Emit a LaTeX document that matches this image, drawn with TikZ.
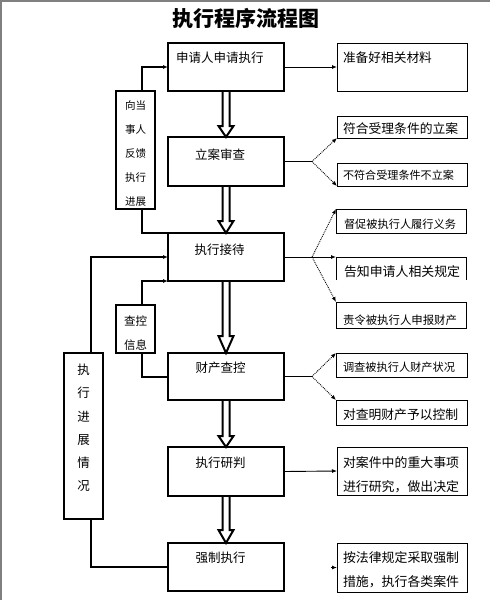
\documentclass[tikz,border=0pt]{standalone}
\usepackage{fontspec}
\setmainfont{Noto Sans CJK SC}
\usetikzlibrary{arrows.meta,calc}
\newcommand\setfs[2]{\fontsize{#1pt}{#2pt}\selectfont}
\newcommand\myhollow[3]{%
  \draw[hollow] ($(#1.south)+(-3.5,0)$) -- ($(#2.north)+(-3.5,-#3)$) -- ($(#2.north)+(-7.5,-#3)$)
     -- (#2.north) -- ($(#2.north)+(7.5,-#3)$) -- ($(#2.north)+(3.5,-#3)$) -- ($(#1.south)+(3.5,0)$);}
\tikzset{
  mainbox/.style={draw, line width=2.3pt, minimum width=116pt, anchor=north west, inner sep=0pt, outer sep=0pt},
  sidebox/.style={draw, line width=2pt, minimum width=39pt, anchor=north west, inner sep=0pt, outer sep=0pt},
  rbox/.style={draw, line width=1pt, minimum width=130pt, anchor=north west, inner sep=0pt, outer sep=0pt},
  txt/.style={inner sep=0pt, outer sep=0pt},
  hollow/.style={line width=2pt, line join=miter},
  feed/.style={line width=2pt},
  tipsmall/.style={-{Latex[length=5pt,width=4pt]}},
  thin/.style={line width=0.9pt},
  dots/.style={line width=0.9pt, densely dotted},
  framegray/.style={line width=2pt, draw=black!50}
}
\begin{document}
\begin{tikzpicture}[x=1pt,y=-1pt]
\useasboundingbox (0,0) rectangle (490,600);
\fill[white] (0,0) rectangle (490,600);
\draw[framegray] (0,1) -- (490,1);
\draw[framegray] (1,0) -- (1,600);

% title
\node[txt, font=\setfs{21}{21}\bfseries] (title) at (246,19) {执行程序流程图};

% main column
\node[mainbox, minimum height=48pt] (b1) at (168,43) {};
\node[mainbox, minimum height=49pt] (b2) at (168,137) {};
\node[mainbox, minimum height=48pt] (b3) at (168,233) {};
\node[mainbox, minimum height=47pt] (b4) at (168,353) {};
\node[mainbox, minimum height=49pt] (b5) at (168,447) {};
\node[mainbox, minimum height=48pt, line width=2pt] (b6) at (168,543) {};

\node[txt, font=\setfs{12.5}{12.5}, anchor=west] (b1t) at (176,57.5) {申请人申请执行};
\node[txt, font=\setfs{12.5}{12.5}] (b2t) at (220,155) {立案审查};
\node[txt, font=\setfs{12.5}{12.5}] (b3t) at (219.5,250) {执行接待};
\node[txt, font=\setfs{12.5}{12.5}] (b4t) at (220.5,368) {财产查控};
\node[txt, font=\setfs{12.5}{12.5}] (b5t) at (220.5,463) {执行研判};
\node[txt, font=\setfs{12.5}{12.5}] (b6t) at (220.5,558) {强制执行};

% hollow arrows
\myhollow{b1}{b2}{11}
\myhollow{b2}{b3}{12}
\myhollow{b3}{b4}{17}
\myhollow{b4}{b5}{11}
\myhollow{b5}{b6}{13}

% left boxes
\node[sidebox, minimum height=118pt] (l1) at (116,91) {};
\node[sidebox, minimum height=48pt] (l2) at (116,305) {};
\node[sidebox, minimum height=166pt] (l3) at (64,353) {};
\node[txt, font=\setfs{10.5}{24}, align=center] (l1t) at (135.5,154) {向当\\事人\\反馈\\执行\\进展};
\node[txt, font=\setfs{11.5}{24}, align=center] (l2t) at (135.5,333) {查控\\信息};
\node[txt, font=\setfs{12.5}{23.2}, align=center] (l3t) at (83.5,428) {执\\行\\进\\展\\情\\况};

% left connectors
\draw[feed, tipsmall] ([xshift=6.5pt]l1.north) |- (b1.west);
\draw[feed] ([xshift=6.5pt]l1.south) |- (b3.north west);
\draw[feed, tipsmall] ([xshift=7.5pt]l3.north) |- (b3.west);
\draw[feed, tipsmall] ([xshift=6.5pt]l2.north) |- (b3.south west);
\draw[feed] ([xshift=6.5pt]l2.south) |- (b4.west);
\draw[feed] ([xshift=7.5pt]l3.south) |- (b6.west);

% right boxes
\node[rbox, minimum height=48pt] (r1) at (337,43) {};
\node[rbox, minimum height=22pt] (r2) at (337,116) {};
\node[rbox, minimum height=23pt] (r3) at (337,163) {};
\node[rbox, minimum height=24pt] (r4) at (336,209) {};
\node[rbox, minimum height=23pt, draw=none] (r5) at (336,257) {};
\draw[line width=1pt] (r5.south west) -- (r5.north west) -- (r5.north east) -- (r5.south east);
\node[rbox, minimum height=26pt] (r6) at (336,302) {};
\node[rbox, minimum height=24pt, minimum width=131pt] (r7) at (336,353) {};
\node[rbox, minimum height=25pt, minimum width=131pt] (r8) at (336,400) {};
\node[rbox, minimum height=48pt] (r9) at (337,447) {};
\node[rbox, minimum height=49pt] (r10) at (337,543) {};

\node[txt, font=\setfs{12.7}{12.7}, anchor=west] (r1t) at (343,58) {准备好相关材料};
\node[txt, font=\setfs{12.8}{12.8}, anchor=west] (r2t) at (343,129) {符合受理条件的立案};
\node[txt, font=\setfs{11.1}{11.1}, anchor=west] (r3t) at (343,175) {不符合受理条件不立案};
\node[txt, font=\setfs{11.2}{11.2}, anchor=west] (r4t) at (344,224) {督促被执行人履行义务};
\node[txt, font=\setfs{12.9}{12.9}, anchor=west] (r5t) at (344,272) {告知申请人相关规定};
\node[txt, font=\setfs{11.4}{11.4}, anchor=west] (r6t) at (343,320) {责令被执行人申报财产};
\node[txt, font=\setfs{11.2}{11.2}, anchor=west] (r7t) at (343,367) {调查被执行人财产状况};
\node[txt, font=\setfs{12.8}{12.8}, anchor=west] (r8t) at (343,415) {对查明财产予以控制};
\node[txt, font=\setfs{12.9}{24}, anchor=west, align=left] (r9t) at (343,475) {对案件中的重大事项\\进行研究，做出决定};
\node[txt, font=\setfs{12.9}{24}, anchor=west, align=left] (r10t) at (343,570) {按法律规定采取强制\\措施，执行各类案件};

% right connectors
\coordinate (c2) at (312,161.5);
\coordinate (c3) at (312,257);
\coordinate (c4) at (312,376.5);
\coordinate (a6) at (331,567.5);
\draw[thin, tipsmall] (b1.east) -- (r1.west);
\draw[thin] (b2.east) -- (c2);
\draw[dots, tipsmall] (c2) -- (r2.south west);
\draw[dots, tipsmall] (c2) -- (r3.south west);
\draw[thin, tipsmall] (b3.east) -- (r5.north west);
\draw[dots, tipsmall] (c3) -- (r4.north west);
\draw[dots, tipsmall] (c3) -- (r6.north west);
\draw[thin] (b4.east) -- (c4);
\draw[dots, tipsmall] (c4) -- (r7.north west);
\draw[dots, tipsmall] (c4) -- (r8.north west);
\draw[thin, tipsmall] (b5.east) -- (r9.west);
\draw[thin, tipsmall] (a6) -- (r10.west);
\end{tikzpicture}
\end{document}
